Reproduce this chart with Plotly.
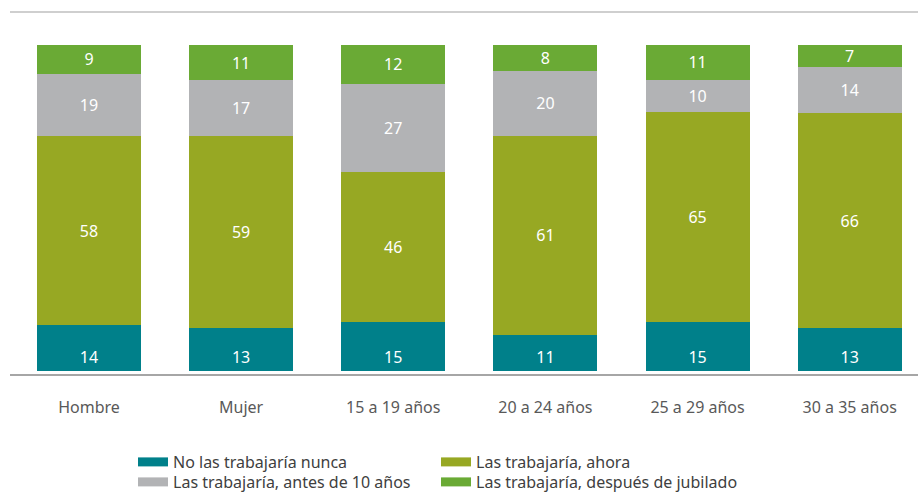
import plotly.graph_objects as go

categories = ["Hombre", "Mujer", "15 a 19 años", "20 a 24 años", "25 a 29 años", "30 a 35 años"]

nunca = [14, 13, 15, 11, 15, 13]
ahora = [58, 59, 46, 61, 65, 66]
antes_10 = [19, 17, 27, 20, 10, 14]
jubilado = [9, 11, 12, 8, 11, 7]

# (name, values, colour, label anchor, legend row)
series = [
    ("No las trabajaría nunca", nunca, "#00808A", "start", "legend"),
    ("Las trabajaría, ahora", ahora, "#97A823", "middle", "legend"),
    ("Las trabajaría, antes de 10 años", antes_10, "#B2B3B5", "middle", "legend2"),
    ("Las trabajaría, después de jubilado", jubilado, "#6AAA35", "middle", "legend2"),
]

FONT = "Noto Sans"

fig = go.Figure()
x_idx = list(range(len(categories)))

for name, vals, color, anchor, _ in series:
    fig.add_trace(go.Bar(
        x=x_idx, y=vals, name=name,
        marker=dict(color=color, line=dict(width=0)),
        width=0.684,
        text=[str(v) for v in vals],
        textposition="inside",
        insidetextanchor=anchor,
        textangle=0,
        textfont=dict(color="white", size=16, family=FONT),
        showlegend=False,
        hoverinfo="skip",
    ))

# legend entries drawn as thick line swatches, two per row
for name, vals, color, anchor, leg in series:
    fig.add_trace(go.Scatter(
        x=[None], y=[None], mode="lines", name=name,
        line=dict(color=color, width=9),
        showlegend=True, legend=leg,
    ))

legend_common = dict(
    orientation="h",
    xref="container", x=0.1449, xanchor="left",
    yref="container", yanchor="middle",
    entrywidth=258,
    font=dict(size=16, color="#404040", family=FONT),
    traceorder="normal",
    itemsizing="trace",
    bgcolor="rgba(0,0,0,0)",
)

fig.update_layout(
    barmode="stack",
    barnorm="percent",
    width=918, height=494,
    margin=dict(l=10, r=0, t=12, b=120, autoexpand=False),
    plot_bgcolor="white",
    paper_bgcolor="white",
    font=dict(family=FONT, size=16, color="#595959"),
    uniformtext=dict(minsize=16, mode="show"),
    legend=dict(legend_common, y=1 - 462 / 494),
    legend2=dict(legend_common, y=1 - 482 / 494),
    xaxis=dict(
        tickmode="array", tickvals=x_idx, ticktext=categories,
        range=[-0.519, 5.449],
        showline=True, linecolor="#A6A6A6", linewidth=2,
        ticks="outside", ticklen=18, tickcolor="rgba(0,0,0,0)",
        showgrid=False, zeroline=False,
        tickfont=dict(size=16, color="#595959"),
    ),
    yaxis=dict(
        range=[-1, 110],
        showticklabels=False, ticks="",
        showgrid=False, zeroline=False, showline=False,
    ),
    shapes=[dict(
        type="line", xref="paper", yref="paper",
        x0=0, x1=1, y0=1, y1=1,
        line=dict(color="#CFCFCF", width=2),
    )],
)

fig.write_html("out.html")
